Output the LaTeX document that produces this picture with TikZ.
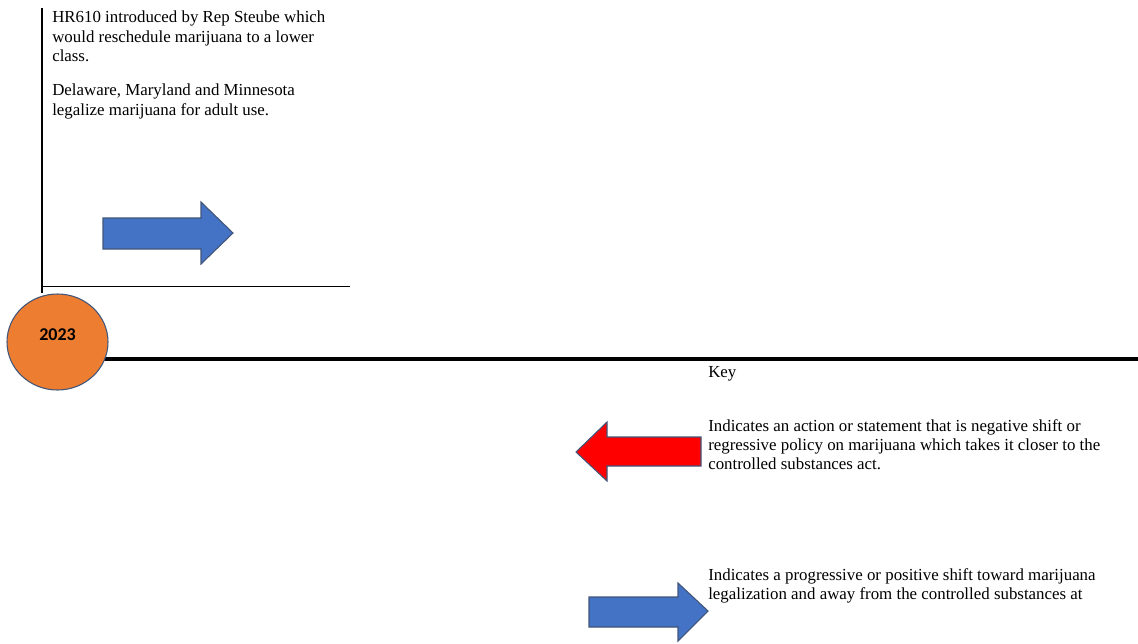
\documentclass[tikz,border=0pt]{standalone}
\usepackage{fontspec}
\setmainfont{Liberation Serif}
\newfontfamily\yearfont{Carlito}
\usetikzlibrary{shapes.geometric}
\begin{document}
\begin{tikzpicture}[x=0.75pt,y=-0.75pt,
  note/.style={anchor=north west,inner sep=0pt,align=left,
    font=\fontsize{12.65pt}{14.4pt}\selectfont},
  yearnode/.style={ellipse,draw=borderblue,line width=0.8pt,fill=yearorange,
    minimum width=101*0.75pt,minimum height=96*0.75pt,inner sep=0pt,
    font=\yearfont\bfseries\fontsize{13.5pt}{15pt}\selectfont},
  progarrow/.style={fill=arrowblue,draw=borderblue,line width=0.8pt,line join=miter},
  regarrow/.style={fill=red,draw=borderblue,line width=0.8pt,line join=miter},
  axis/.style={line width=3pt},
  frame/.style={line width=2pt}]
\definecolor{yearorange}{HTML}{ED7D31}
\definecolor{arrowblue}{HTML}{4472C4}
\definecolor{borderblue}{HTML}{41557A}
\useasboundingbox (0,0) rectangle (1138,643);

% main axis, running out from behind the year marker
\coordinate (axisstart) at (100,359);
\coordinate (axisend) at (1138,359);
\draw[axis] (axisstart) -- (axisend);

% year marker
\node[yearnode] (year) at (57.5,342) {};
\node[inner sep=0pt,font=\yearfont\bfseries\fontsize{13.5pt}{15pt}\selectfont] (yearlabel) at (57.5,335) {2023};

% event frame for 2023
\coordinate (frametop) at (42,8);
\coordinate (framecorner) at (42,286.5);
\coordinate (frameend) at (350,286.5);
\draw[frame] (frametop) -- (year.north -| frametop);
\draw[line width=1.3pt] (framecorner) -- (frameend);

\node[note] (ev1) at (52,11) {HR610 introduced by Rep Steube which\\would reschedule marijuana to a lower\\class.};
\node[note] (ev2) at (52,84) {Delaware, Maryland and Minnesota\\legalize marijuana for adult use.};

\draw[progarrow] (103,218) -- (201,218) -- (201,202) -- (233,233) -- (201,264) -- (201,249) -- (103,249) -- cycle;

% key
\node[note] (key) at (708,366) {Key};
\draw[regarrow] (576,452) -- (607,422) -- (607,437) -- (701,437) -- (701,466) -- (607,466) -- (607,481) -- cycle;
\node[note] (keyneg) at (708,419) {Indicates an action or statement that is negative shift or\\regressive policy on marijuana which takes it closer to the\\controlled substances act.};
\draw[progarrow] (589,597) -- (678,597) -- (678,583) -- (708,611) -- (678,641) -- (678,627) -- (589,627) -- cycle;
\node[note] (keypos) at (708,568) {Indicates a progressive or positive shift toward marijuana\\legalization and away from the controlled substances at};
\end{tikzpicture}
\end{document}
